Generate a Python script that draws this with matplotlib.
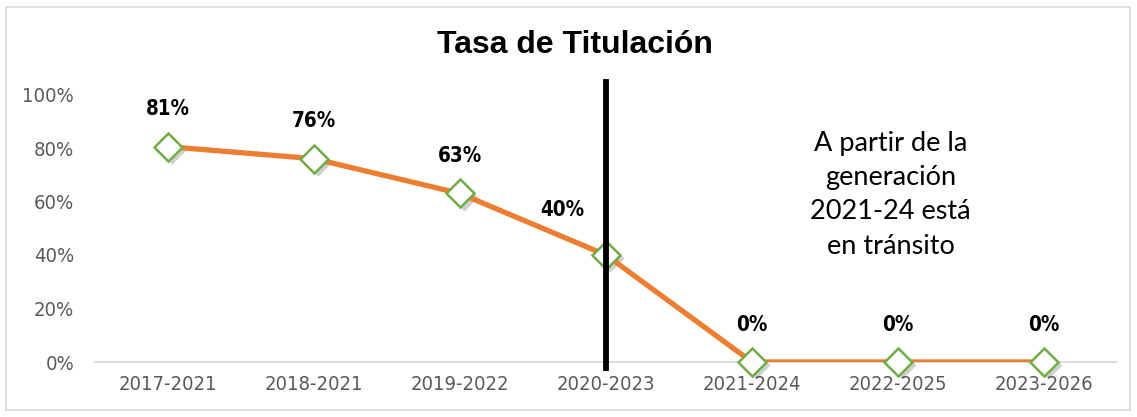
import matplotlib.pyplot as plt
import matplotlib.patches as patches
from matplotlib import font_manager
import numpy as np

# Datos
generaciones = ['2017-2021', '2018-2021', '2019-2022', '2020-2023',
                '2021-2024', '2022-2025', '2023-2026']
tasa = [0.805, 0.76, 0.63, 0.40, 0.0, 0.0, 0.0]
etiquetas = ['81%', '76%', '63%', '40%', '0%', '0%', '0%']
yticks = [0, 0.2, 0.4, 0.6, 0.8, 1.0]

cond = font_manager.FontProperties(family='DejaVu Sans', stretch='condensed', size=14.5)
condb = font_manager.FontProperties(family='DejaVu Sans', stretch='condensed',
                                    weight='bold', size=14.8)

fig = plt.figure(figsize=(11.37, 4.17), dpi=100)
ax = fig.add_axes([95 / 1137, 1 - 362 / 417, (1117 - 95) / 1137, (362 - 94.5) / 417])

x = np.arange(len(generaciones))
ax.plot(x, tasa, color='#ED7D31', lw=3.8, zorder=3)
# sombra de los marcadores
ax.plot(x + 0.03, np.array(tasa) - 0.012, 'D', ms=14, color='#00000030',
        mec='none', zorder=2, clip_on=False)
ax.plot(x, tasa, 'D', ms=14, mfc='white', mec='#70AD47', mew=1.8, zorder=4,
        clip_on=False)

offs = [0.14, 0.14, 0.14, 0.17, 0.14, 0.14, 0.14]
for xi, yi, t, o in zip(x, tasa, etiquetas, offs):
    dx = -0.3 if t == '40%' else 0
    ax.text(xi + dx, yi + o, t, ha='center', va='center', fontproperties=condb)

# línea vertical
ax.plot([3, 3], [-0.022, 1.045], color='black', lw=4.2, zorder=5, clip_on=False)

ax.set_xlim(-0.5, 6.5)
ax.set_ylim(0, 1)
ax.set_xticks(x)
ax.set_xticklabels(generaciones)
ax.set_yticks(yticks)
ax.set_yticklabels([f'{int(v * 100)}%' for v in yticks])
for lab in ax.get_xticklabels() + ax.get_yticklabels():
    lab.set_fontproperties(cond)
    lab.set_color('#595959')
ax.tick_params(length=0)
ax.tick_params(axis='x', pad=9)
ax.tick_params(axis='y', pad=15)
for s in ['top', 'right', 'left']:
    ax.spines[s].set_visible(False)
ax.spines['bottom'].set_color('#D9D9D9')
ax.spines['bottom'].set_linewidth(1.3)
ax.spines['bottom'].set_zorder(1)

fig.text(575 / 1137, 1 - 45 / 417, 'Tasa de Titulación', ha='center', va='center',
         fontsize=23, fontweight='bold', family=['Liberation Sans', 'DejaVu Sans'])

ax.text(4.95, 0.625, 'A partir de la\ngeneración\n2021-24 está\nen tránsito', ha='center',
        va='center', fontsize=19.5, linespacing=1.46, family=['Lato', 'DejaVu Sans'])

fig.patches.append(patches.Rectangle((6 / 1137, 7 / 417), 1124 / 1137, 403 / 417,
                                     transform=fig.transFigure, fill=False,
                                     ec='#D9D9D9', lw=1.2))

fig.savefig('out.png', dpi=100)
